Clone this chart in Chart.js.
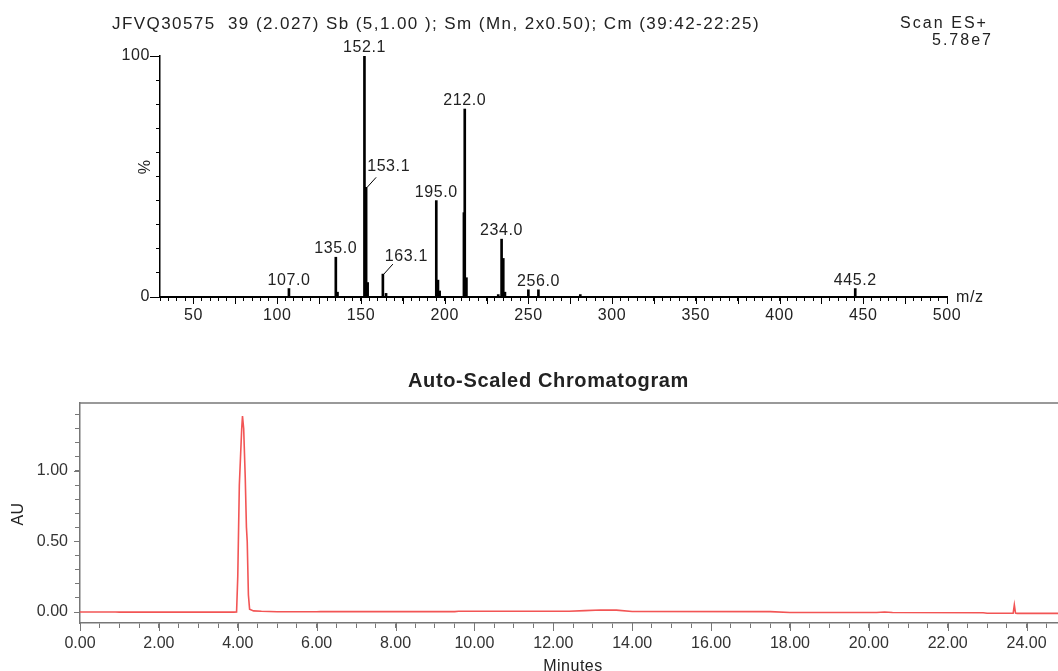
<!DOCTYPE html>
<html>
<head>
<meta charset="utf-8">
<script src="https://cdn.jsdelivr.net/npm/chart.js@4.4.0/dist/chart.umd.min.js"></script>
<style>
  html, body { margin: 0; padding: 0; background: #fff; overflow: hidden; width: 1058px; height: 671px; }
  canvas { position: absolute; left: 0; }
  #ms { top: 0; }
  #lc { top: 340px; }
</style>
</head>
<body>
<canvas id="ms" width="1058" height="340"></canvas>
<canvas id="lc" width="1090" height="331"></canvas>
<script>
// mass spectrum (top)
var specTitle = 'JFVQ30575  39 (2.027) Sb (5,1.00 ); Sm (Mn, 2x0.50); Cm (39:42-22:25)';
var scanInfo = ['Scan ES+', '5.78e7'];
var mzValues  = [107.0, 135.0, 136.0, 152.1, 153.1, 154.0, 163.1, 165.0, 195.0, 196.0, 197.0, 211.5, 212.0, 213.0, 232.0, 234.0, 235.0, 236.0, 250.0, 256.0, 281.0, 445.2];
var intensity = [3.5,   16.5,  2,     100,   45.5,  6,     9.5,   1.5,   40,    7,     2.5,   35,    78,    8,     1,     24,    16,    2,     3,     3,     1,     3.5];
var peakLabels = ['107.0', '135.0', '152.1', '153.1', '163.1', '195.0', '212.0', '234.0', '256.0', '445.2'];
var mzTickLabels = [50, 100, 150, 200, 250, 300, 350, 400, 450, 500];

// chromatogram (bottom)
var chromTitle = 'Auto-Scaled Chromatogram';
var rtMinutes  = [0, 0.9, 1.0, 3.9, 3.97, 4.0, 4.04, 4.07, 4.1, 4.12, 4.15, 4.19, 4.22, 4.24, 4.27, 4.3, 4.4, 4.6, 5.0, 6.0, 6.1, 9.5, 9.6, 12.4, 12.8, 13.2, 13.6, 14.0, 17.5, 18.0, 20.2, 20.4, 20.6, 22.9, 23.0, 23.66, 23.69, 23.72, 23.76, 24.1, 25.0];
var absorbance = [0.0, 0.0, -0.001, -0.001, 0.0, 0.25, 0.9, 1.1, 1.3, 1.39, 1.3, 0.95, 0.6, 0.5, 0.12, 0.02, 0.008, 0.005, 0.002, 0.002, 0.003, 0.003, 0.005, 0.005, 0.01, 0.014, 0.013, 0.004, 0.003, -0.004, -0.004, 0.0, -0.004, -0.005, -0.009, -0.009, 0.05, -0.008, -0.01, -0.01, -0.01];
var auTickLabels = [0, 0.5, 1.0];

var FONT = 'Liberation Sans';

function isMult(v, step) {
  return Math.abs(v / step - Math.round(v / step)) < 1e-6;
}

// draw a string stretched to a given width (the original uses wide letter spacing)
function spacedText(ctx, txt, x, y, width) {
  ctx.letterSpacing = '0px';
  var w0 = ctx.measureText(txt).width;
  ctx.letterSpacing = Math.max(0, (width - w0) / txt.length) + 'px';
  ctx.fillText(txt, x, y);
}

// leader-line labels: offsets from bar top
var leaderLabels = { '153.1': { dx: 1, dy: -16 }, '163.1': { dx: 2, dy: -13 } };

var msDecor = {
  id: 'msDecor',
  beforeDraw: function (chart) {
    chart.ctx.letterSpacing = '0.6px';
  },
  afterDraw: function (chart) {
    var ctx = chart.ctx, xs = chart.scales.x, ys = chart.scales.y, a = chart.chartArea;
    ctx.save();
    ctx.letterSpacing = '0.6px';
    ctx.fillStyle = '#222';
    ctx.strokeStyle = '#000';
    ctx.lineWidth = 1;
    ctx.font = '16px "' + FONT + '"';

    // longer major ticks
    ctx.beginPath();
    for (var v = 50; v <= 500; v += 25) {
      var px = Math.round(xs.getPixelForValue(v)) + 0.5;
      ctx.moveTo(px, a.bottom); ctx.lineTo(px, a.bottom + 7);
    }
    [0, 100].forEach(function (t) {
      var py = Math.round(ys.getPixelForValue(t)) + 0.5;
      ctx.moveTo(a.left - 10, py); ctx.lineTo(a.left, py);
    });
    ctx.stroke();

    // peak labels
    peakLabels.forEach(function (lab) {
      var i = mzValues.indexOf(parseFloat(lab));
      var x = xs.getPixelForValue(mzValues[i]);
      var top = ys.getPixelForValue(intensity[i]);
      var ld = leaderLabels[lab];
      if (ld) {
        ctx.beginPath();
        ctx.moveTo(x + 1, top);
        ctx.lineTo(x + 10, top - 10);
        ctx.stroke();
        ctx.textAlign = 'left';
        ctx.textBaseline = 'alphabetic';
        ctx.fillText(lab, x + ld.dx, top + ld.dy);
      } else {
        ctx.textAlign = 'center';
        ctx.textBaseline = 'alphabetic';
        ctx.fillText(lab, x, top - 4);
      }
    });

    // axis names
    ctx.textBaseline = 'middle';
    ctx.textAlign = 'left';
    ctx.fillText('m/z', 956, a.bottom + 1);
    ctx.save();
    ctx.translate(146, ys.getPixelForValue(54));
    ctx.rotate(-Math.PI / 2);
    ctx.textAlign = 'center';
    ctx.fillText('%', 0, 0);
    ctx.restore();

    // header
    ctx.textAlign = 'left';
    ctx.font = '17px "' + FONT + '"';
    spacedText(ctx, specTitle, 112, 24, 648);
    ctx.font = '16px "' + FONT + '"';
    spacedText(ctx, scanInfo[0], 900, 24, 88);
    spacedText(ctx, scanInfo[1], 932, 41, 61);
    ctx.restore();
  }
};

new Chart(document.getElementById('ms'), {
  type: 'bar',
  data: {
    datasets: [{
      data: mzValues.map(function (m, i) { return { x: m, y: intensity[i] }; }),
      backgroundColor: '#000',
      barThickness: 2
    }]
  },
  options: {
    responsive: false,
    animation: false,
    layout: { padding: { left: 0, right: 111, top: 56, bottom: 3 } },
    plugins: { legend: { display: false }, tooltip: { enabled: false } },
    scales: {
      x: {
        type: 'linear', min: 30, max: 500, offset: false,
        grid: { offset: false, drawOnChartArea: false, tickLength: 4, color: '#000' },
        border: { color: '#000', width: 2 },
        ticks: {
          stepSize: 5, autoSkip: false, maxRotation: 0, minRotation: 0, padding: 5,
          color: '#222', font: { family: FONT, size: 16 },
          callback: function (v) { return mzTickLabels.indexOf(v) >= 0 ? String(v) : ''; }
        },
        afterFit: function (s) { s.height = 40; }
      },
      y: {
        min: 0, max: 100,
        grid: { drawOnChartArea: false, tickLength: 4, color: '#000' },
        border: { color: '#000', width: 1.5 },
        ticks: {
          stepSize: 10, autoSkip: false, padding: 6, color: '#222', font: { family: FONT, size: 16 },
          callback: function (v) { return (v === 0 || v === 100) ? String(v) : ''; }
        },
        afterFit: function (s) { s.width = 160; }
      }
    }
  },
  plugins: [msDecor]
});

var lcDecor = {
  id: 'lcDecor',
  afterDraw: function (chart) {
    var ctx = chart.ctx, xs = chart.scales.x, ys = chart.scales.y, a = chart.chartArea;
    ctx.save();
    ctx.strokeStyle = '#777';
    ctx.lineWidth = 1.5;
    ctx.beginPath();
    ctx.moveTo(a.left, a.top); ctx.lineTo(a.right, a.top);
    ctx.stroke();
    ctx.lineWidth = 1;
    ctx.beginPath();
    for (var t = 0; t <= 24; t += 2) {
      var px = Math.round(xs.getPixelForValue(t)) + 0.5;
      ctx.moveTo(px, a.bottom); ctx.lineTo(px, a.bottom + 8);
    }
    auTickLabels.forEach(function (v) {
      var py = Math.round(ys.getPixelForValue(v)) + 0.5;
      ctx.moveTo(a.left - 6, py); ctx.lineTo(a.left, py);
    });
    ctx.stroke();

    ctx.fillStyle = '#222';
    ctx.textBaseline = 'middle';
    ctx.textAlign = 'left';
    ctx.font = 'bold 20px "' + FONT + '"';
    spacedText(ctx, chromTitle, 408, 41, 281);
    ctx.textAlign = 'center';
    ctx.font = '16px "' + FONT + '"';
    ctx.letterSpacing = '0.5px';
    ctx.fillText('Minutes', (a.left + a.right) / 2, 327);
    ctx.translate(19, 174);
    ctx.rotate(-Math.PI / 2);
    ctx.fillText('AU', 0, 0);
    ctx.restore();
  }
};

new Chart(document.getElementById('lc'), {
  type: 'line',
  data: {
    datasets: [{
      data: rtMinutes.map(function (t, i) { return { x: t, y: absorbance[i] }; }),
      borderColor: 'rgb(242,85,85)',
      borderWidth: 1.6,
      pointRadius: 0,
      fill: false,
      tension: 0
    }]
  },
  options: {
    responsive: false,
    animation: false,
    layout: { padding: { left: 0, right: 24, top: 63, bottom: 0 } },
    plugins: { legend: { display: false }, tooltip: { enabled: false } },
    scales: {
      x: {
        type: 'linear', min: 0, max: 25,
        grid: { drawOnChartArea: false, tickLength: 5, color: '#777' },
        border: { color: '#777', width: 1.5 },
        ticks: {
          stepSize: 0.5, autoSkip: false, maxRotation: 0, minRotation: 0, padding: 6,
          color: '#333', font: { family: FONT, size: 16 },
          callback: function (v) { return isMult(v, 2) ? v.toFixed(2) : ''; }
        },
        afterFit: function (s) { s.height = 48; }
      },
      y: {
        min: -0.078, max: 1.482,
        grid: { drawOnChartArea: false, tickLength: 5, color: '#777' },
        border: { color: '#777', width: 1.5 },
        ticks: {
          stepSize: 0.1, includeBounds: false, autoSkip: false, padding: 7,
          color: '#333', font: { family: FONT, size: 16 },
          callback: function (v) { return isMult(v, 0.5) ? v.toFixed(2) : ''; }
        },
        afterFit: function (s) { s.width = 80; }
      }
    }
  },
  plugins: [lcDecor]
});
</script>
</body>
</html>
